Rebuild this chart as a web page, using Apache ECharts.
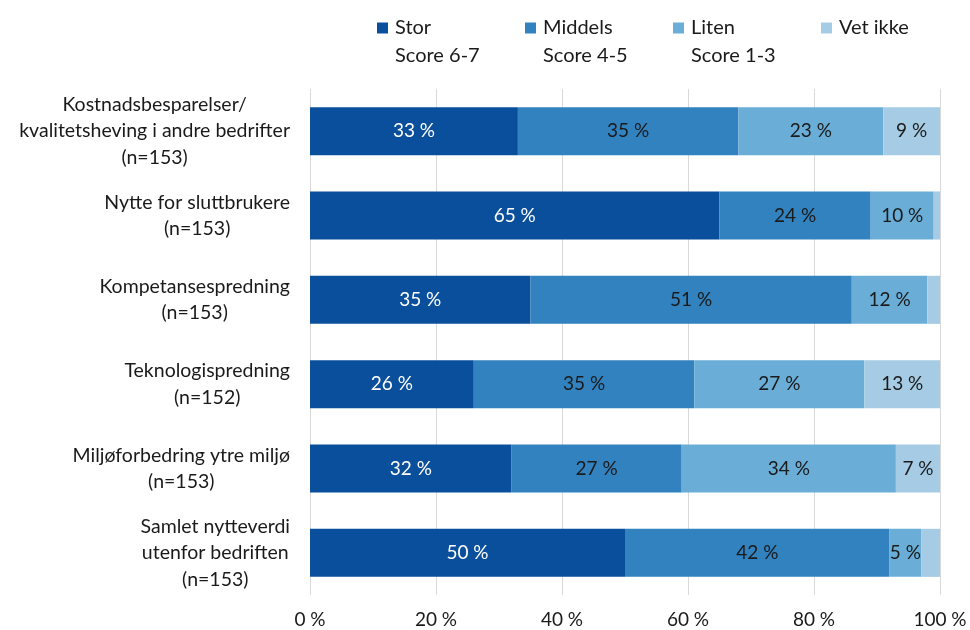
<!DOCTYPE html>
<html>
<head>
<meta charset="utf-8">
<script src="https://cdn.jsdelivr.net/npm/echarts@6/dist/echarts.min.js"></script>
<style>
  html, body { margin: 0; padding: 0; background: #fff; }
  #chart { width: 970px; height: 630px; }
</style>
</head>
<body>
<div id="chart"></div>
<script>
// Survey categories (top to bottom)
const categories = [
  'Kostnadsbesparelser/\nkvalitetsheving i andre bedrifter\n(n=153)',
  'Nytte for sluttbrukere\n(n=153)',
  'Kompetansespredning\n(n=153)',
  'Teknologispredning\n(n=152)',
  'Miljøforbedring ytre miljø\n(n=153)',
  'Samlet nytteverdi\nutenfor bedriften\n(n=153)'
];

// Share of answers per score group (%)
const stor    = [33, 65, 35, 26, 32, 50];
const middels = [35, 24, 51, 35, 27, 42];
const liten   = [23, 10, 12, 27, 34, 5];
const vetIkke = [9, 1, 2, 13, 7, 3];

const seriesNames = ['Stor', 'Middels', 'Liten', 'Vet ikke'];
const seriesSubtitles = ['Score 6-7', 'Score 4-5', 'Score 1-3', ''];
const xTicks = [0, 20, 40, 60, 80, 100];

const colors = ['#0a4f9b', '#3282bf', '#6aaed8', '#a6cce5'];
const labelColors = ['#ffffff', '#1a1a1a', '#1a1a1a', '#1a1a1a'];
const FONT = 'Lato';

const chart = echarts.init(document.getElementById('chart'), null, { renderer: 'canvas' });

// legend rich styles: coloured square + two-line text
const legendRich = {
  t: { fontFamily: FONT, fontSize: 20, color: '#1a1a1a', lineHeight: 28, width: 125 },
  g: { width: 7 },
  p: { width: 18 }
};
colors.forEach((c, i) => {
  legendRich['m' + i] = { width: 11, height: 11, backgroundColor: c };
});

// category labels: lines centred within a right-anchored block
const catRich = {
  c: { fontFamily: FONT, fontSize: 19.5, color: '#1a1a1a', lineHeight: 26.5, align: 'center' }
};

const dataSets = [stor, middels, liten, vetIkke];

const option = {
  animation: false,
  color: colors,
  textStyle: { fontFamily: FONT },
  legend: {
    data: seriesNames.map(n => ({ name: n, icon: 'none' })),
    left: 367,
    top: 13,
    width: 600,
    itemWidth: 0,
    itemHeight: 0,
    itemGap: 0,
    selectedMode: false,
    formatter: function (name) {
      const i = seriesNames.indexOf(name);
      const sub = seriesSubtitles[i];
      return '{m' + i + '|}{g|}{t|' + name + '}' + (sub ? '\n{p|}{t|' + sub + '}' : '\n{t| }');
    },
    textStyle: { rich: legendRich }
  },
  grid: { left: 310, right: 30, top: 89, bottom: 35, containLabel: false },
  xAxis: {
    type: 'value',
    min: 0,
    max: 100,
    interval: 20,
    axisLine: { show: false },
    axisTick: { show: false },
    splitLine: { show: true, lineStyle: { color: '#d9d9d9', width: 1 } },
    axisLabel: {
      margin: 15,
      fontFamily: FONT,
      fontSize: 19,
      color: '#1a1a1a',
      formatter: v => (xTicks.indexOf(v) >= 0 ? v + ' %' : '')
    }
  },
  yAxis: {
    type: 'category',
    inverse: true,
    data: categories,
    axisLine: { show: false },
    axisTick: { show: false },
    axisLabel: {
      margin: 20,
      formatter: function (v) {
        return v.split('\n').map(l => '{c|' + l + '}').join('\n');
      },
      rich: catRich
    }
  },
  series: dataSets.map((d, i) => ({
    name: seriesNames[i],
    type: 'bar',
    stack: 'total',
    barWidth: '57%',
    data: d,
    itemStyle: { color: colors[i] },
    label: {
      show: true,
      position: 'inside',
      fontFamily: FONT,
      fontSize: 19,
      color: labelColors[i],
      formatter: p => (p.value >= 5 ? p.value + ' %' : '')
    }
  }))
};

chart.setOption(option);
</script>
</body>
</html>
